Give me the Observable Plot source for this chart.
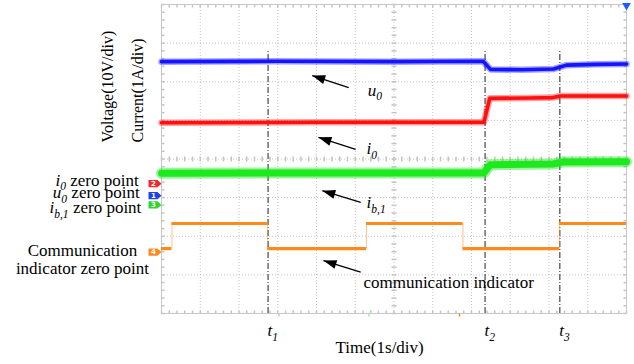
<!DOCTYPE html>
<html><head><meta charset="utf-8">
<script src="https://cdn.jsdelivr.net/npm/d3@7"></script>
<script src="https://cdn.jsdelivr.net/npm/@observablehq/plot@0.6"></script>
<style>html,body{margin:0;padding:0;background:#fff;}</style>
</head><body><div id="chart"></div>
<script>
// ---------- DATA (screen levels in divisions; 12 x 8 division scope screen) ----------
const u0Time   = [0, 3, 6, 8.30, 8.49, 9.3, 10.12, 10.45, 11.2, 12];
const u0Level  = [6.52, 6.53, 6.52, 6.53, 6.32, 6.31, 6.33, 6.43, 6.45, 6.46];
const i0Time   = [0, 4, 8.32, 8.47, 9.5, 10.1, 10.3, 12];
const i0Level  = [4.94, 4.95, 4.95, 5.57, 5.58, 5.59, 5.63, 5.63];
const ib1Time  = [0, 4, 8.32, 8.48, 10.1, 10.35, 12];
const ib1Level = [3.63, 3.64, 3.64, 3.85, 3.87, 3.92, 3.93];
const commEdges = [0, 0.27, 2.74, 5.29, 7.78, 10.27, 12];
const commState = [0, 1, 0, 1, 0, 1];
const commLevel = [1.68, 2.33];
const channelNames = ["1", "2", "3", "4"];
const channelZero  = [3.05, 3.36, 2.81, 1.59];
const cursorNames = ["$t_{1}$", "$t_{2}$", "$t_{3}$"];
const cursorTime  = [2.75, 8.35, 10.28];
const cursorTop = 6.81;

// ---------- STYLE ----------
const serif = "Liberation Serif, Times New Roman, serif";
const traceColor = {u0: "#1414ff", i0: "#ff1010", ib1: "#1ee81e", comm: "#ff8a1c"};
const tagColor = ["#2342e6", "#ee2a2a", "#2fd62f", "#ff8a22"];

const pts = (t, v) => t.map((x, i) => ({x, y: v[i]}));
const u0 = pts(u0Time, u0Level), i0 = pts(i0Time, i0Level), ib1 = pts(ib1Time, ib1Level);
const commSegs = commState.map((s, i) => ({x1: commEdges[i], x2: commEdges[i + 1], y: commLevel[s]}));
const commSteps = commEdges.slice(1, -1).map((x, i) => ({x, y1: commLevel[commState[i]], y2: commLevel[commState[i + 1]]}));
const channels = channelNames.map((n, i) => ({n, y: channelZero[i], c: tagColor[i]}));
const cursors = cursorTime.map((x, i) => ({x, label: cursorNames[i]}));

const W = 634, H = 364, mL = 161, mR = 8, mT = 4, mB = 51;
const sx = Plot.scale({x: {domain: [0, 12], range: [mL, W - mR]}});
const sy = Plot.scale({y: {domain: [0, 8], range: [H - mB, mT]}});

// annotation arrows (tail -> tip)
const arrows = [
  {x1: 4.83, y1: 5.85, x2: 3.89, y2: 6.16},
  {x1: 5.01, y1: 4.25, x2: 4.05, y2: 4.56},
  {x1: 5.14, y1: 2.88, x2: 4.15, y2: 3.18},
  {x1: 5.14, y1: 1.07, x2: 4.18, y2: 1.37}
];
const angle = d => {
  const dx = sx.apply(d.x2) - sx.apply(d.x1), dy = sy.apply(d.y2) - sy.apply(d.y1);
  return Math.atan2(dx, -dy) * 180 / Math.PI;
};
const head = {draw(c) { c.moveTo(0, 0); c.lineTo(4.5, 13); c.lineTo(-4.5, 13); c.closePath(); }};
const tag = {draw(c) { c.moveTo(0, 0); c.lineTo(-4, -3.6); c.lineTo(-13, -3.6); c.lineTo(-13, 3.6); c.lineTo(-4, 3.6); c.closePath(); }};
const seg = (a, b, e, f) => ({draw(c) { c.moveTo(a, b); c.lineTo(e, f); }});

const minorX = d3.range(0, 12.0001, 0.2), minorY = d3.range(0, 8.0001, 0.2);
const gridC = "#c4c4c4";

const traceLabels = [
  {t: "$u_{0}$", x: 5.32, y: 5.64},
  {t: "$i_{0}$", x: 5.29, y: 4.12},
  {t: "$i_{b,1}$", x: 5.29, y: 2.72},
  {t: "communication indicator", x: 5.21, y: 0.655}
];
const zeroLabels = [
  {t: "$i_{0}$ zero point", x: -0.59, y: 3.31},
  {t: "$u_{0}$ zero point", x: -0.56, y: 2.99},
  {t: "$i_{b,1}$ zero point", x: -0.52, y: 2.60}
];
const commLabels = [
  {t: "Communication", x: -2.04, y: 1.50},
  {t: "indicator zero point", x: -2.04, y: 1.01}
];
const axisLabels = [
  {t: "Voltage(10V/div)", x: -1.252, y: 4.43},
  {t: "Current(1A/div)", x: -0.483, y: 4.43}
];

const chart = Plot.plot({
  width: W, height: H,
  marginLeft: mL, marginRight: mR, marginTop: mT, marginBottom: mB,
  x: {domain: [0, 12], axis: null},
  y: {domain: [0, 8], axis: null},
  style: {background: "#fff", overflow: "visible"},
  marks: [
    // grid
    Plot.ruleX(d3.range(1, 12), {stroke: gridC, strokeDasharray: "1,2"}),
    Plot.ruleY(d3.range(1, 8), {stroke: gridC, strokeDasharray: "1,2"}),
    // minor ticks on border and centre lines
    Plot.dot(minorX, {x: d => d, y: 8, symbol: seg(0, 0, 0, 3), fill: "none", stroke: gridC}),
    Plot.dot(minorX, {x: d => d, y: 0, symbol: seg(0, 0, 0, -3), fill: "none", stroke: gridC}),
    Plot.dot(minorX, {x: d => d, y: 4, symbol: seg(0, -2.5, 0, 2.5), fill: "none", stroke: gridC}),
    Plot.dot(minorY, {x: 0, y: d => d, symbol: seg(0, 0, 3, 0), fill: "none", stroke: gridC}),
    Plot.dot(minorY, {x: 12, y: d => d, symbol: seg(0, 0, -3, 0), fill: "none", stroke: gridC}),
    Plot.dot(minorY, {x: 6, y: d => d, symbol: seg(-2.5, 0, 2.5, 0), fill: "none", stroke: gridC}),
    Plot.frame({stroke: "#c8c8c8"}),
    // cursors
    Plot.ruleX(cursors, {x: "x", y1: 0, y2: cursorTop, stroke: "#222", strokeWidth: 1, strokeDasharray: "6,2,1,2"}),
    // traces (noise band + core)
    Plot.line(u0, {x: "x", y: "y", stroke: traceColor.u0, strokeWidth: 6.5, strokeOpacity: 0.4}),
    Plot.line(u0, {x: "x", y: "y", stroke: traceColor.u0, strokeWidth: 3.6}),
    Plot.line(i0, {x: "x", y: "y", stroke: traceColor.i0, strokeWidth: 6.5, strokeOpacity: 0.4}),
    Plot.line(i0, {x: "x", y: "y", stroke: traceColor.i0, strokeWidth: 3.6}),
    Plot.line(ib1, {x: "x", y: "y", stroke: traceColor.ib1, strokeWidth: 11, strokeOpacity: 0.45}),
    Plot.line(ib1, {x: "x", y: "y", stroke: traceColor.ib1, strokeWidth: 7}),
    Plot.ruleX(commSteps, {x: "x", y1: "y1", y2: "y2", stroke: traceColor.comm, strokeWidth: 1, strokeOpacity: 0.5}),
    Plot.ruleY(commSegs, {x1: "x1", x2: "x2", y: "y", stroke: traceColor.comm, strokeWidth: 3.2}),
    // channel zero markers
    Plot.dot(channels, {x: 0, y: "y", symbol: tag, fill: "c", stroke: "none"}),
    Plot.text(channels, {x: 0, y: "y", text: "n", dx: -8, fill: "white", fontSize: 7, fontWeight: "bold", fontFamily: "DejaVu Sans"}),
    // trigger marker
    Plot.dot([0], {frameAnchor: "top-right", symbol: "triangle", rotate: 180, r: 3.2, fill: "#1a5cff", dy: 1}),
    // small bottom markers
    Plot.dot([{x: 3.03, c: "#ffb0b0"}, {x: 5.35, c: "#a0f0a0"}, {x: 7.69, c: "#ff8a1c"}], {x: "x", y: 0, symbol: seg(0, 0, 0, 3), fill: "none", stroke: "c", strokeWidth: 1.5}),
    // arrows
    Plot.link(arrows, {x1: "x1", y1: "y1", x2: "x2", y2: "y2", stroke: "#000", strokeWidth: 1.3}),
    Plot.dot(arrows, {x: "x2", y: "y2", symbol: head, rotate: angle, fill: "#000", stroke: "none"}),
    // labels
    Plot.text(traceLabels, {x: "x", y: "y", text: "t", textAnchor: "start", lineAnchor: "bottom", fontSize: 17, fontFamily: serif, fill: "#000"}),
    Plot.text(zeroLabels, {x: "x", y: "y", text: "t", textAnchor: "end", lineAnchor: "bottom", fontSize: 17, fontFamily: serif, fill: "#000"}),
    Plot.text(commLabels, {x: "x", y: "y", text: "t", textAnchor: "middle", lineAnchor: "bottom", fontSize: 17, fontFamily: serif, fill: "#000"}),
    Plot.text(axisLabels, {x: "x", y: "y", text: "t", rotate: -90, textAnchor: "start", lineAnchor: "bottom", fontSize: 16, fontFamily: serif, fill: "#000"}),
    Plot.text(cursors, {x: "x", y: -0.595, text: "label", dx: -0.5, textAnchor: "start", lineAnchor: "bottom", fontSize: 17, fontFamily: serif, fill: "#000"}),
    Plot.text(["Time(1s/div)"], {x: 5.63, y: -1.01, text: d => d, textAnchor: "middle", lineAnchor: "bottom", fontSize: 17, fontFamily: serif, fill: "#000"})
  ]
});
document.getElementById("chart").appendChild(chart);

// rich text: $base_{sub}$ -> italic base with subscript
d3.select(chart).selectAll("text").each(function () {
  const s = this.textContent;
  if (!s.includes("$")) return;
  const fs = parseFloat(getComputedStyle(this).fontSize) || 17;
  const el = d3.select(this).text(null);
  let shift = 0;
  s.split("$").forEach((p, i) => {
    if (!p) return;
    if (i % 2 === 0) {
      el.append("tspan").attr("dy", -shift).text(p); shift = 0; return;
    }
    const m = p.match(/^([^_]*)(?:_\{(.*)\})?$/);
    el.append("tspan").attr("font-style", "italic").attr("dy", -shift).text(m[1]); shift = 0;
    if (m[2]) {
      const d = 0.27 * fs;
      el.append("tspan").attr("font-style", "italic").attr("font-size", (0.68 * fs) + "px").attr("dy", d).text(m[2]);
      shift = d;
    }
  });
});
</script></body></html>
